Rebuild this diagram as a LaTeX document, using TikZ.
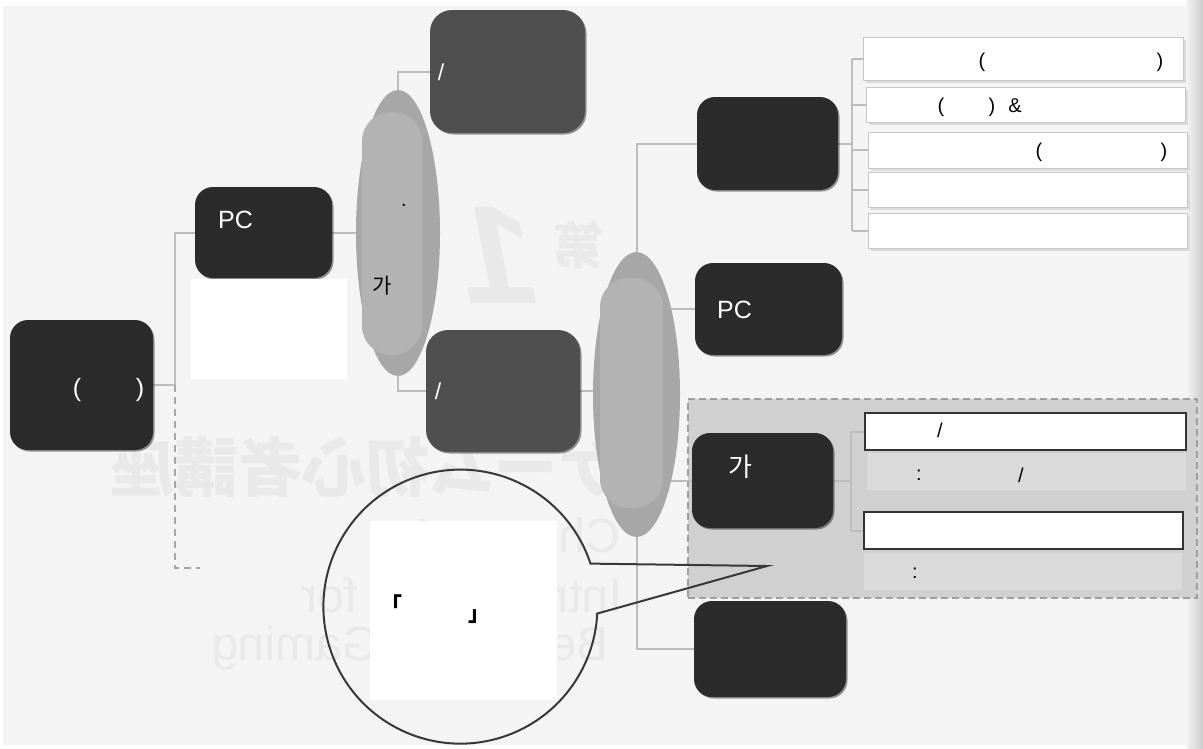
\documentclass[tikz,border=0pt]{standalone}
\usepackage{graphicx}
\usepackage{fontspec}
\setmainfont{Liberation Sans}
\newfontfamily\krfont{Noto Sans CJK KR}
\newfontfamily\jpfont{Noto Sans CJK JP}
\usetikzlibrary{shapes.geometric,shadows}

\definecolor{pagebg}{HTML}{F4F4F4}
\definecolor{boxdark}{HTML}{2B2B2B}
\definecolor{boxmid}{HTML}{4F4F4F}
\definecolor{ovalout}{HTML}{A7A7A7}
\definecolor{ovalin}{HTML}{B3B3B3}
\definecolor{wire}{HTML}{BDBDBD}
\definecolor{zone}{HTML}{D0D0D0}
\definecolor{stripgrey}{HTML}{DADADA}
\definecolor{ghost}{HTML}{E9E9E9}

\pgfdeclarelayer{paper}
\pgfdeclarelayer{wires}
\pgfsetlayers{paper,wires,main}

\begin{document}
\begin{tikzpicture}[x=1pt,y=1pt,
  shade/.style={drop shadow={shadow xshift=1.5pt,shadow yshift=-1.5pt,opacity=.4,fill=black}},
  darkbox/.style={fill=boxdark, rounded corners=18pt, inner sep=0pt, shade},
  midbox/.style={fill=boxmid, rounded corners=22pt, inner sep=0pt, shade},
  oval/.style={ellipse, fill=ovalout, inner sep=0pt},
  pill/.style={fill=ovalin, rounded corners=29pt, inner sep=0pt},
  listbox/.style={fill=white, draw=black!22, line width=1pt, inner sep=0pt,
    drop shadow={shadow xshift=3pt,shadow yshift=-2.5pt,fill=black!14,opacity=1}},
  framebox/.style={fill=white, draw=black!80, line width=1.5pt, inner sep=0pt},
  stripbox/.style={fill=stripgrey, inner sep=0pt},
  patch/.style={fill=white, inner sep=0pt},
  wtxt/.style={text=white, font=\fontsize{23}{25}\selectfont, inner sep=0pt},
  btxt/.style={text=black, font=\fontsize{20}{22}\selectfont, inner sep=0pt},
  conn/.style={draw=wire, line width=2pt},
  ghosttxt/.style={text=ghost, inner sep=0pt},
]
\useasboundingbox (0,0) rectangle (1203,-748);

% page
\begin{pgfonlayer}{paper}
  \fill[white] (0,0) rectangle (1203,-748);
  \fill[pagebg] (3,-6) rectangle (1203,-745);
  \shade[left color=pagebg, right color=black!20] (1186,0) rectangle (1203,-748);
  % faint show-through print
  \node[ghosttxt, font=\jpfont\bfseries\fontsize{64}{64}\selectfont] (gjp) at (366,-467) {\reflectbox{ゲーム初心者講座}};
  \node[ghosttxt, font=\bfseries\itshape\fontsize{140}{140}\selectfont] (gone) at (500,-255) {\reflectbox{1}};
  \node[ghosttxt, font=\jpfont\bfseries\fontsize{50}{50}\selectfont] (gdai) at (578,-245) {\reflectbox{第}};
  \node[ghosttxt, font=\fontsize{48}{48}\selectfont] (gen1) at (515,-540) {\reflectbox{Chapter 1}};
  \node[ghosttxt, font=\fontsize{48}{48}\selectfont] (gen2) at (462,-595) {\reflectbox{Introduction for}};
  \node[ghosttxt, font=\fontsize{48}{48}\selectfont] (gen3) at (410,-648) {\reflectbox{Beginners Gaming}};
  % shaded group on the right
  \node[fill=zone, draw=black!38, line width=1.5pt, dash pattern=on 7pt off 4pt,
        minimum width=509, minimum height=199, inner sep=0pt] (zoneA) at (942.5,-498.5) {};
\end{pgfonlayer}

% first level
\node[darkbox, minimum width=143, minimum height=130] (root) at (81.5,-385) {};
\node[darkbox, minimum width=137, minimum height=91] (pcA) at (263.5,-232.5) {};
\node[patch, minimum width=156, minimum height=100] (patchA) at (269,-329) {};

% first oval and its two branches
\node[oval, minimum width=84, minimum height=286] (ovA) at (398,-233) {};
\node[pill, minimum width=60, minimum height=243] (pillA) at (392,-233.5) {};
\node[midbox, minimum width=155, minimum height=123] (gTop) at (507.5,-71.5) {};
\node[midbox, minimum width=154, minimum height=122] (gLow) at (503,-391) {};

% second oval and its four branches
\node[oval, minimum width=87, minimum height=285] (ovB) at (636.5,-394.5) {};
\node[pill, minimum width=63, minimum height=230] (pillB) at (631.5,-393) {};
\node[darkbox, minimum width=141, minimum height=93] (nA) at (767.5,-143.5) {};
\node[darkbox, minimum width=147, minimum height=92] (pcB) at (768.5,-309) {};
\node[darkbox, minimum width=141, minimum height=95] (ga) at (762.5,-480.5) {};
\node[darkbox, minimum width=152, minimum height=96] (bot) at (770,-649) {};

% list of five entries
\node[listbox, minimum width=320, minimum height=43] (w1) at (1023,-58.5) {};
\node[listbox, minimum width=319, minimum height=35] (w2) at (1025.5,-104.5) {};
\node[listbox, minimum width=319, minimum height=36] (w3) at (1027.5,-150) {};
\node[listbox, minimum width=319, minimum height=35] (w4) at (1027.5,-189.5) {};
\node[listbox, minimum width=319, minimum height=35] (w5) at (1027.5,-230.5) {};

% framed entries with notes
\node[framebox, minimum width=321, minimum height=37] (b1) at (1025.5,-431.5) {};
\node[stripbox, minimum width=319, minimum height=37] (s1) at (1026.5,-471.5) {};
\node[framebox, minimum width=319, minimum height=37] (b2) at (1023.5,-530.5) {};
\node[stripbox, minimum width=318, minimum height=37] (s2) at (1023,-571.5) {};

% connectors
\coordinate (j1) at (175,-385);
\coordinate (dEnd) at (200,-568);
\coordinate (lA) at (852,-143.5);
\coordinate (lB) at (851,-480.5);
\begin{pgfonlayer}{wires}
  \draw[conn] (root.east) -- (j1) |- (pcA.west);
  \draw[draw=black!35, line width=1.5pt, dash pattern=on 7pt off 5pt] (j1) |- (dEnd);
  \draw[conn] (pcA.east) -- (pcA.east -| ovA.center);
  \draw[conn] (ovA.north) |- (gTop.west);
  \draw[conn] (ovA.south) |- (gLow.west);
  \draw[conn] (gLow.east) -- (ovB.center |- gLow.east);
  \draw[conn] (ovB.north) |- (nA.west);
  \draw[conn] (ovB.center |- pcB.west) -- (pcB.west);
  \draw[conn] (ovB.center |- ga.west) -- (ga.west);
  \draw[conn] (ovB.south) |- (bot.west);
  \draw[conn] (nA.east) -- (lA);
  \draw[conn] (w1.west -| lA) -- (w5.west -| lA);
  \foreach \w in {w1,w2,w3,w4,w5} \draw[conn] (\w.west -| lA) -- (\w.west);
  \draw[conn] (ga.east) -- (lB);
  \draw[conn] (b1.west -| lB) -- (b2.west -| lB);
  \foreach \w in {b1,b2} \draw[conn] (\w.west -| lB) -- (\w.west);
\end{pgfonlayer}

% speech bubble
\node[circle, minimum size=274, inner sep=0pt] (bub) at (460,-606) {};
\coordinate (tip) at (767,-566);
\draw[draw=black!78, line width=2pt, line join=miter]
  (bub.18.3) arc[start angle=18.3, end angle=357.1, radius=137pt] -- (tip) -- cycle;
\node[patch, minimum width=187, minimum height=179] (patchB) at (463.5,-610.5) {};

% labels
\node[wtxt, font=\fontsize{25}{27}\selectfont] (tr1) at (77,-390) {(};
\node[wtxt, font=\fontsize{25}{27}\selectfont] (tr2) at (140,-390) {)};
\node[wtxt, font=\fontsize{25}{27}\selectfont] (tpcA) at (235.5,-220) {PC};
\node[wtxt, font=\fontsize{25}{27}\selectfont] (tpcB) at (734.5,-310) {PC};
\node[wtxt] (tgTop) at (441,-72) {/};
\node[wtxt] (tgLow) at (438,-391) {/};
\node[wtxt, font=\krfont\fontsize{26}{28}\selectfont] (tga) at (740,-467) {가};
\node[btxt, font=\krfont\fontsize{21}{23}\selectfont] (tovA) at (382,-286) {가};
\node[btxt, anchor=base] (tdot) at (404,-206) {.};

\node[btxt] (tw1a) at (982,-62) {(};
\node[btxt] (tw1b) at (1160,-62) {)};
\node[btxt] (tw2a) at (941,-107) {(};
\node[btxt] (tw2b) at (992,-107) {)};
\node[btxt] (tw2c) at (1015,-106) {\&};
\node[btxt] (tw3a) at (1039,-152) {(};
\node[btxt] (tw3b) at (1164,-152) {)};
\node[btxt] (tb1) at (940,-430) {/};
\node[btxt] (ts1a) at (919,-475) {:};
\node[btxt] (ts1b) at (1021,-475) {/};
\node[btxt] (ts2) at (915,-573) {:};

\node[btxt, font=\jpfont\bfseries\fontsize{22}{24}\selectfont] (lq) at (391,-604) {「};
\node[btxt, font=\jpfont\bfseries\fontsize{22}{24}\selectfont] (rq) at (479,-617) {」};
\end{tikzpicture}
\end{document}
